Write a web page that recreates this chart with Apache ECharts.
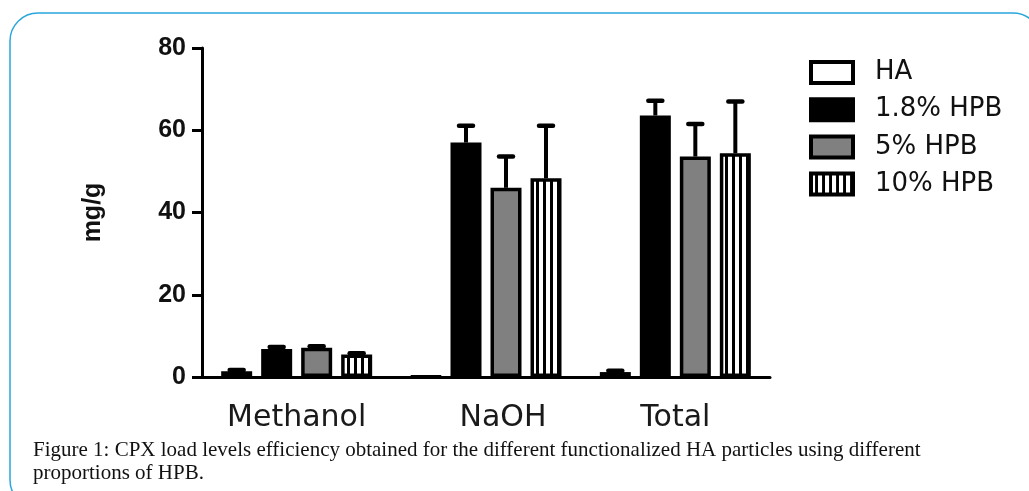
<!DOCTYPE html>
<html>
<head>
<meta charset="utf-8">
<script src="https://cdn.jsdelivr.net/npm/echarts@6/dist/echarts.min.js"></script>
<style>
html,body{margin:0;padding:0;background:#fff;}
#chart{width:1029px;height:491px;}
</style>
</head>
<body>
<div id="chart"></div>
<script>
// ---- data ----
const categories = ['Methanol', 'NaOH', 'Total'];
const seriesNames = ['HA', '1.8% HPB', '5% HPB', '10% HPB'];
const haValues    = [1.4, 0.1, 1.2];
const haErrors    = [0.3, 0, 0.3];
const hpb18Values = [6.8, 57.0, 63.6];
const hpb18Errors = [0.5, 4.1, 3.6];
const hpb5Values  = [7.1, 46.0, 53.6];
const hpb5Errors  = [0.4, 7.6, 7.9];
const hpb10Values = [5.5, 48.3, 54.4];
const hpb10Errors = [0.3, 12.8, 12.6];
const yTicks = [0, 20, 40, 60, 80];
const captionLines = [
  'Figure 1: CPX load levels efficiency obtained for the different functionalized HA particles using different',
  'proportions of HPB.'
];

// ---- styling ----
function stripes() {
  const c = document.createElement('canvas');
  c.width = 7; c.height = 8;
  const g = c.getContext('2d');
  g.fillStyle = '#fff'; g.fillRect(0, 0, 7, 8);
  g.fillStyle = '#000'; g.fillRect(4, 0, 3, 8);
  return c;
}
const fills = ['#ffffff', '#000000', '#808080', { image: stripes(), repeat: 'repeat' }];
const allValues = [haValues, hpb18Values, hpb5Values, hpb10Values];
const allErrors = [haErrors, hpb18Errors, hpb5Errors, hpb10Errors];
const barW = 31, barStep = 40;
const offsets = [-1.5, -0.5, 0.5, 1.5].map(k => k * barStep);

const chart = echarts.init(document.getElementById('chart'));

const barSeries = seriesNames.map((name, i) => ({
  name: name,
  type: 'bar',
  data: allValues[i],
  barWidth: barW,
  barGap: ((barStep - barW) / barW * 100) + '%',
  itemStyle: { color: fills[i], borderColor: '#000', borderWidth: 3.5 },
  emphasis: { disabled: true },
  z: 2
}));

const errSeries = seriesNames.map((name, i) => ({
  name: name + ' err',
  type: 'custom',
  data: categories.map((c, k) => [k, allValues[i][k], allErrors[i][k]]),
  encode: { x: 0, y: 1 },
  z: 3,
  silent: true,
  renderItem: function (params, api) {
    const ci = api.value(0), v = api.value(1), e = api.value(2);
    if (!e) return null;
    const p0 = api.coord([ci, v]);
    const p1 = api.coord([ci, v + e]);
    const x = p0[0] + offsets[i];
    return {
      type: 'group',
      children: [
        { type: 'line', shape: { x1: x, y1: p0[1], x2: x, y2: p1[1] }, style: { stroke: '#000', lineWidth: 4 } },
        { type: 'line', shape: { x1: x - 7, y1: p1[1], x2: x + 7, y2: p1[1] }, style: { stroke: '#000', lineWidth: 4.5, lineCap: 'round' } }
      ]
    };
  }
}));

chart.setOption({
  animation: false,
  backgroundColor: '#fff',
  grid: { left: 202, right: 259, top: 48, bottom: 114 },
  legend: {
    data: seriesNames,
    orient: 'vertical',
    left: 809, top: 59.5,
    padding: 0,
    itemWidth: 42, itemHeight: 21,
    itemGap: 11.2,
    icon: 'rect',
    itemStyle: { borderColor: '#000', borderWidth: 4 },
    textStyle: { fontFamily: 'DejaVu Sans', fontSize: 26, color: '#111', padding: [0, 0, 0, 17] },
    selectedMode: false
  },
  xAxis: {
    type: 'category',
    data: categories,
    axisLine: { lineStyle: { color: '#000', width: 3 } },
    axisTick: { alignWithLabel: true, length: 10, lineStyle: { color: '#000', width: 3 } },
    axisLabel: {
      interval: 0,
      hideOverlap: false,
      margin: 26,
      fontFamily: 'DejaVu Sans', fontSize: 30, color: '#1a1a1a',
      formatter: v => v === 'NaOH' ? '{s|' + v + '}' : v,
      rich: { s: { fontFamily: 'DejaVu Sans', fontSize: 30, color: '#1a1a1a', padding: [0, 0, 0, 34] } }
    }
  },
  yAxis: {
    type: 'value',
    min: yTicks[0], max: yTicks[yTicks.length - 1], interval: yTicks[1] - yTicks[0],
    name: 'mg/g',
    nameLocation: 'middle',
    nameGap: 96,
    nameTextStyle: { fontFamily: 'Liberation Sans', fontWeight: 'bold', fontSize: 25, color: '#111' },
    axisLine: { show: true, lineStyle: { color: '#000', width: 3 } },
    axisTick: { show: true, length: 10, lineStyle: { color: '#000', width: 3 } },
    axisLabel: { margin: 16, fontFamily: 'Liberation Sans', fontWeight: 'bold', fontSize: 25, color: '#111' },
    splitLine: { show: false }
  },
  series: barSeries.concat(errSeries),
  graphic: [
    { type: 'rect', silent: true, shape: { x: 10, y: 13, width: 1031, height: 495, r: 28 },
      style: { fill: 'none', stroke: '#2aa6dc', lineWidth: 1.5 } },
    { type: 'text', silent: true, x: 33, y: 450,
      style: { text: captionLines[0], font: '21px "Liberation Serif"', fill: '#111', verticalAlign: 'middle' } },
    { type: 'text', silent: true, x: 33, y: 473,
      style: { text: captionLines[1], font: '21px "Liberation Serif"', fill: '#111', verticalAlign: 'middle' } }
  ]
});
</script>
</body>
</html>
